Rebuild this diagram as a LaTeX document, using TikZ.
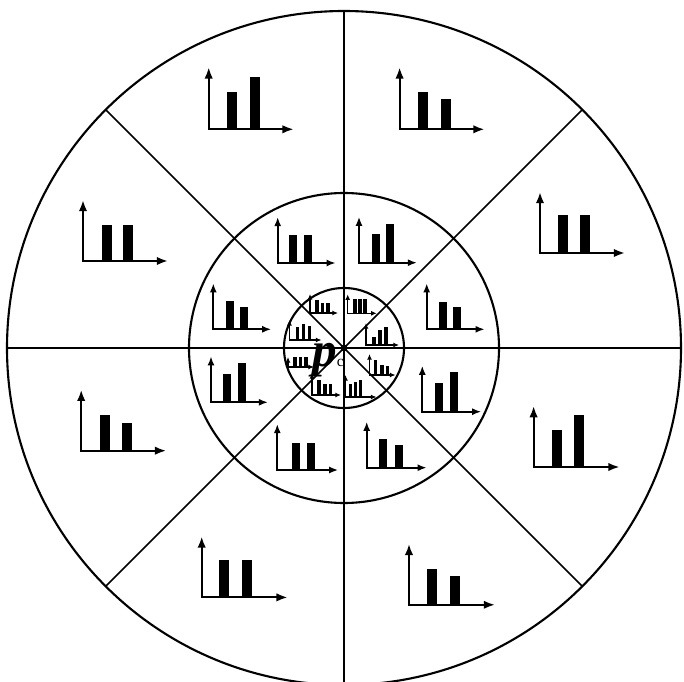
\documentclass[tikz,border=0pt]{standalone}
\usepackage{fontspec}
\setmainfont{Liberation Serif}
\usetikzlibrary{arrows.meta}

% small histogram: style, origin, x-axis length, y-axis length, bars (offset/width/height)
\newcommand{\barplot}[5]{%
	\draw[#1] (#2) ++(0,-#4) -- (#2) -- ++(#3,0);
	\foreach \bx/\bw/\bh in {#5}
		\fill (#2) ++(\bx,0) rectangle ++(\bw,-\bh);
}

\begin{document}
\begin{tikzpicture}[x=0.025cm, y=-0.025cm,
	ring/.style={line width=1.5pt},
	spoke/.style={line width=1.2pt},
	outeraxis/.style={line width=1.5pt, arrows={Latex[length=8pt,width=6pt]-Latex[length=8pt,width=6pt]}},
	midaxis/.style={line width=1.3pt, arrows={Latex[length=6.5pt,width=5pt]-Latex[length=6.5pt,width=5pt]}},
	inneraxis/.style={line width=1pt, arrows={Latex[length=4pt,width=3.5pt]-Latex[length=4pt,width=3.5pt]}}]

	\useasboundingbox (0,0) rectangle (684,682);
	\coordinate (c) at (344,348);

	% circles and sectors
	\draw[ring] (c) circle[radius=337];
	\draw[ring] (c) circle[radius=155];
	\draw[ring] (c) circle[radius=60];
	\foreach \a in {0,45,90,135}
		\draw[spoke] (c) ++(\a:337) -- ++(\a+180:674);

	% outer ring
	\barplot{outeraxis}{208.7,129.3}{85}{62}{18/10/37, 41/10/52}
	\barplot{outeraxis}{399.6,129.3}{85}{62}{18/10/37, 41/10/30.5}
	\barplot{outeraxis}{540,253}{85}{61}{18/10/37.5, 40/10/37.5}
	\barplot{outeraxis}{533.6,467}{86}{61}{18.5/10/37, 40.5/10/52}
	\barplot{outeraxis}{409,604.8}{86}{61}{18/10/36, 40.5/10/29}
	\barplot{outeraxis}{201.7,597.4}{86}{61}{17.5/10/37.5, 40.5/10/37.5}
	\barplot{outeraxis}{81.2,450.7}{85}{61}{19/10/35.8, 41/10/28}
	\barplot{outeraxis}{83,261}{85}{61}{18.5/10/36, 40/10/36}

	% middle ring
	\barplot{midaxis}{277.7,263}{58}{46}{11.6/8/28.3, 26.3/8/28.3}
	\barplot{midaxis}{359,262.7}{58}{46}{12.7/8/28.3, 26.7/8/38.3}
	\barplot{midaxis}{426.7,329.3}{58}{46}{12.7/8/27.7, 26.7/8/22.7}
	\barplot{midaxis}{422.3,411.7}{59}{46}{12.7/8/29, 27.7/8/40}
	\barplot{midaxis}{366.7,467.7}{60}{46}{12.7/8/28.3, 28.3/8/22.7}
	\barplot{midaxis}{277.3,470}{61}{46}{14.3/8/26.7, 29.3/8/26.7}
	\barplot{midaxis}{211,402.3}{57}{46}{12.3/8/28, 27.3/8/39.7}
	\barplot{midaxis}{213.3,329.3}{58}{46}{12.7/8/28.3, 26.7/8/22.7}

	% inner ring
	\barplot{inneraxis}{310,313}{28}{19}{5/3.5/13, 10.5/3.5/10, 16/3.5/10}
	\barplot{inneraxis}{347.7,313.3}{29}{19}{5.5/3.5/14, 10.5/3.5/14, 15.5/3.5/14}
	\barplot{inneraxis}{289.5,340}{32}{20}{6/3.5/13, 12/3.5/16, 18/3.5/14}
	\barplot{inneraxis}{366,345}{33}{22}{6/3.5/8, 12/3.5/15, 18/3.5/18}
	\barplot{inneraxis}{288,367}{26}{10}{5/3.5/10, 10.5/3.5/10, 16/3.5/10}
	\barplot{inneraxis}{369.5,375}{26}{21}{4/3.5/15, 10.5/3.5/10, 16/3.5/9}
	\barplot{inneraxis}{312,395}{29}{22}{5/3.5/15, 11/3.5/11, 16.5/3.5/11}
	\barplot{inneraxis}{345.5,397}{31}{22}{3/3.5/13, 8/3.5/15, 13/3.5/17}

	% centre
	\fill (c) circle[radius=3.5];
	\node[anchor=base west, inner sep=0pt] (pc) at (312,366)
		{\fontsize{35}{35}\selectfont\textbf{\textit{p}}\fontsize{11}{11}\selectfont c};

\end{tikzpicture}
\end{document}
